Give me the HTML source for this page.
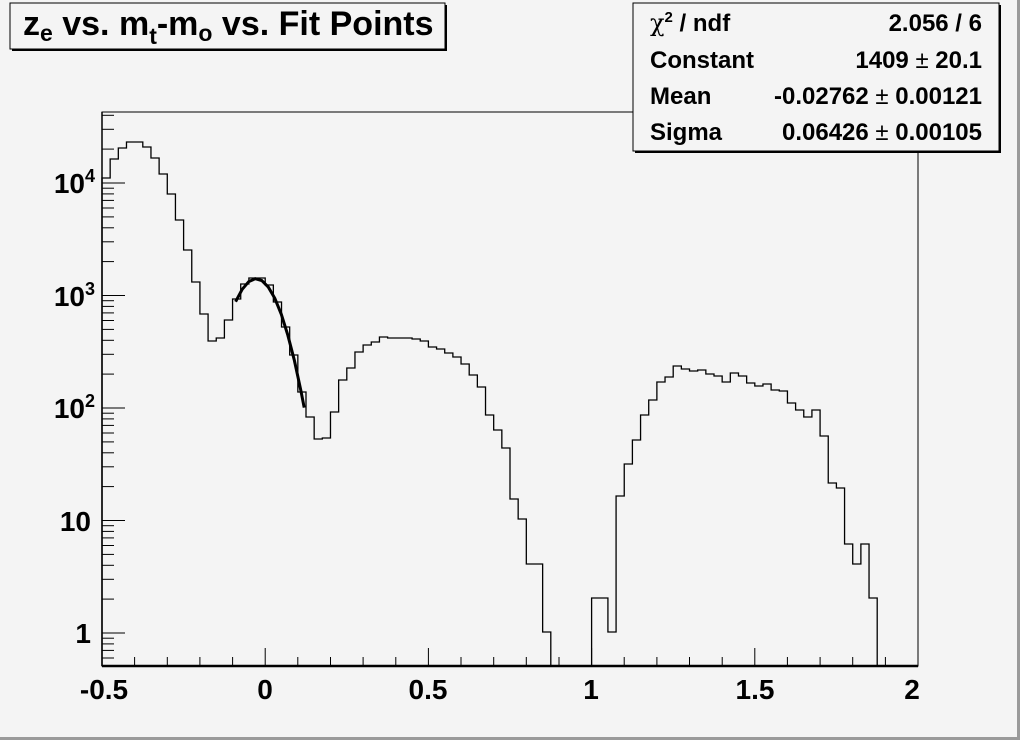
<!DOCTYPE html>
<html><head><meta charset="utf-8"><style>
html,body{margin:0;padding:0;background:#f4f4f4;}
svg{display:block;font-family:"Liberation Sans",Arial,sans-serif;}
</style></head><body>
<svg width="1020" height="740" viewBox="0 0 1020 740" xmlns="http://www.w3.org/2000/svg">
<rect x="0" y="0" width="1020" height="740" fill="#f4f4f4"/>
<line x1="0" y1="738.5" x2="1020" y2="738.5" stroke="#9a9a9a" stroke-width="3"/>
<line x1="1018.5" y1="0" x2="1018.5" y2="740" stroke="#9a9a9a" stroke-width="3"/>
<defs>
<clipPath id="fr"><rect x="101" y="112" width="818" height="554"/></clipPath>
<g id="dec">
<line x1="102" y1="0" x2="125" y2="0"/>
<line x1="102" y1="-33.9" x2="114" y2="-33.9"/>
<line x1="102" y1="-53.7" x2="114" y2="-53.7"/>
<line x1="102" y1="-67.7" x2="114" y2="-67.7"/>
<line x1="102" y1="-78.6" x2="114" y2="-78.6"/>
<line x1="102" y1="-87.5" x2="114" y2="-87.5"/>
<line x1="102" y1="-95.1" x2="114" y2="-95.1"/>
<line x1="102" y1="-101.6" x2="114" y2="-101.6"/>
<line x1="102" y1="-107.3" x2="114" y2="-107.3"/>
</g>
</defs>
<rect x="102" y="112" width="816" height="554" fill="none" stroke="#000" stroke-width="1"/>
<line x1="102" y1="666" x2="918" y2="666" stroke="#000" stroke-width="2.5"/>
<line x1="102" y1="112" x2="102" y2="666" stroke="#000" stroke-width="1.5"/>
<g stroke="#000" stroke-width="1" clip-path="url(#fr)">
<use href="#dec" transform="translate(0,745.5)"/>
<use href="#dec" transform="translate(0,633)"/>
<use href="#dec" transform="translate(0,520.5)"/>
<use href="#dec" transform="translate(0,408)"/>
<use href="#dec" transform="translate(0,295.5)"/>
<use href="#dec" transform="translate(0,183)"/>
</g>
<g stroke="#000" stroke-width="1">
<line x1="102" y1="666" x2="102" y2="648"/>
<line x1="134.6" y1="666" x2="134.6" y2="657"/>
<line x1="167.3" y1="666" x2="167.3" y2="657"/>
<line x1="199.9" y1="666" x2="199.9" y2="657"/>
<line x1="232.6" y1="666" x2="232.6" y2="657"/>
<line x1="265.2" y1="666" x2="265.2" y2="648"/>
<line x1="297.8" y1="666" x2="297.8" y2="657"/>
<line x1="330.5" y1="666" x2="330.5" y2="657"/>
<line x1="363.1" y1="666" x2="363.1" y2="657"/>
<line x1="395.8" y1="666" x2="395.8" y2="657"/>
<line x1="428.4" y1="666" x2="428.4" y2="648"/>
<line x1="461" y1="666" x2="461" y2="657"/>
<line x1="493.7" y1="666" x2="493.7" y2="657"/>
<line x1="526.3" y1="666" x2="526.3" y2="657"/>
<line x1="559" y1="666" x2="559" y2="657"/>
<line x1="591.6" y1="666" x2="591.6" y2="648"/>
<line x1="624.2" y1="666" x2="624.2" y2="657"/>
<line x1="656.9" y1="666" x2="656.9" y2="657"/>
<line x1="689.5" y1="666" x2="689.5" y2="657"/>
<line x1="722.2" y1="666" x2="722.2" y2="657"/>
<line x1="754.8" y1="666" x2="754.8" y2="648"/>
<line x1="787.4" y1="666" x2="787.4" y2="657"/>
<line x1="820.1" y1="666" x2="820.1" y2="657"/>
<line x1="852.7" y1="666" x2="852.7" y2="657"/>
<line x1="885.4" y1="666" x2="885.4" y2="657"/>
<line x1="918" y1="666" x2="918" y2="648"/>
</g>
<path transform="translate(102,0) scale(8.16,1)" fill="none" stroke="#000" stroke-width="1.3" vector-effect="non-scaling-stroke"
d="M0,666 V178 H1 V159 H2 V148 H3 V142 H5 V147 H6 V158 H7 V174 H8 V194 H9 V220 H10 V250 H11 V282 H12 V314 H13 V341 H14 V338 H15 V320 H16 V299 H17 V284 H18 V278 H20 V285 H21 V302 H22 V327 H23 V355 H24 V392 H25 V417 H26 V439 H27 V438 H28 V412 H29 V380 H30 V368 H31 V352 H32 V345 H33 V342 H34 V337 H35 V338 H38 V339 H39 V341 H40 V347 H41 V349 H42 V353 H43 V357 H44 V364 H45 V375 H46 V387 H47 V415 H48 V430 H49 V448 H50 V499 H51 V519 H52 V564 H54 V632 H55 V666 H60 V598 H62 V632 H63 V496 H64 V464 H65 V440 H66 V415 H67 V400 H68 V382 H69 V377 H70 V366 H71 V369 H72 V371 H73 V370 H74 V374 H75 V376 H76 V382 H77 V373 H78 V376 H79 V383 H80 V386 H81 V384 H82 V390 H83 V391 H84 V403 H85 V410 H86 V417 H87 V410 H88 V436 H89 V483 H90 V488 H91 V544 H92 V564 H93 V544 H94 V598 H95 V666"/>
<polyline fill="none" stroke="#000" stroke-width="3" points="235.6,301.7 242.2,289.3 248.7,281.7 255.2,278.7 261.7,280.5 268.3,287.1 274.8,298.3 281.3,314.3 287.8,335.1 294.4,360.5 300.9,390.7 304.2,407.6"/>
<g font-size="28" font-weight="bold" fill="#000">
<text x="104" y="699" text-anchor="middle">-0.5</text>
<text x="265" y="699" text-anchor="middle">0</text>
<text x="428" y="699" text-anchor="middle">0.5</text>
<text x="591" y="699" text-anchor="middle">1</text>
<text x="755" y="699" text-anchor="middle">1.5</text>
<text x="912" y="699" text-anchor="middle">2</text>
<text x="91" y="643" text-anchor="end">1</text>
<text x="91" y="531" text-anchor="end">10</text>
<text x="95" y="418" text-anchor="end">10<tspan font-size="18" dy="-11">2</tspan></text>
<text x="95" y="306" text-anchor="end">10<tspan font-size="18" dy="-11">3</tspan></text>
<text x="95" y="193" text-anchor="end">10<tspan font-size="18" dy="-11">4</tspan></text>
</g>
<rect x="12" y="5" width="435" height="46" fill="#000"/>
<rect x="10" y="3" width="435" height="46" fill="#f4f4f4" stroke="#000" stroke-width="1"/>
<text x="23" y="35" font-size="34" font-weight="bold">z<tspan font-size="23" dy="6">e</tspan><tspan dy="-6"> vs. m</tspan><tspan font-size="23" dy="9">t</tspan><tspan dy="-9">-m</tspan><tspan font-size="23" dy="6">o</tspan><tspan dy="-6"> vs. Fit Points</tspan></text>
<rect x="635" y="5" width="366" height="148" fill="#000"/>
<rect x="633" y="3" width="366" height="148" fill="#f4f4f4" stroke="#000" stroke-width="1"/>
<g font-size="24" font-weight="bold">
<text x="650" y="31"><tspan font-family="DejaVu Serif,serif" font-weight="normal">χ</tspan><tspan font-size="15" dy="-9">2</tspan><tspan dy="9"> / ndf</tspan></text>
<text x="982" y="31" text-anchor="end">2.056 / 6</text>
<text x="650" y="68">Constant</text>
<text x="982" y="68" text-anchor="end">1409 <tspan font-weight="normal">±</tspan> 20.1</text>
<text x="650" y="104">Mean</text>
<text x="982" y="104" text-anchor="end">-0.02762 <tspan font-weight="normal">±</tspan> 0.00121</text>
<text x="650" y="140">Sigma</text>
<text x="982" y="140" text-anchor="end">0.06426 <tspan font-weight="normal">±</tspan> 0.00105</text>
</g>
</svg>
</body></html>
